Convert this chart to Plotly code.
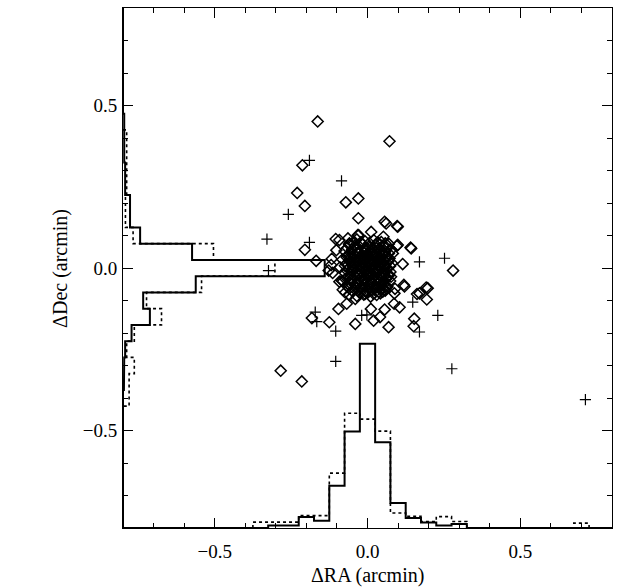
import numpy as np
import plotly.graph_objects as go

# ---------------- data (arcmin) ----------------
# open diamonds: sources (outer ones read individually)
diam_x = [-0.163, 0.072, -0.213, -0.230, -0.205, -0.071, -0.030, -0.030, 0.056, 0.097,
          0.141, 0.280, 0.115, -0.205, -0.168, 0.192, 0.162, 0.194, 0.119, 0.105,
          0.087, 0.056, 0.069, 0.153, 0.151, -0.040, 0.020, 0.041, 0.011, -0.125,
          -0.182, -0.095, -0.068, -0.040, -0.104, -0.064, -0.029, 0.052, 0.096, 0.069,
          -0.084, -0.127, -0.117, -0.073, -0.008, 0.058, 0.090, -0.284, -0.215,
          -0.092, -0.119, -0.114, -0.092, -0.081, -0.059, -0.032, 0.012, -0.102, -0.059,
          0.061, 0.099, 0.143, 0.099, 0.083, 0.077, 0.061, 0.121, 0.197, 0.170, 0.050, 0.088]
diam_y = [0.451, 0.390, 0.316, 0.231, 0.191, 0.202, 0.214, 0.153, 0.142, 0.129,
          0.063, -0.008, 0.012, 0.056, 0.022, -0.060, -0.080, -0.097, -0.052, -0.121,
          -0.110, -0.128, -0.182, -0.156, -0.179, -0.172, -0.162, -0.151, -0.126, -0.167,
          -0.154, -0.126, -0.110, -0.095, 0.089, 0.091, 0.101, 0.096, 0.068, -0.024,
          -0.039, -0.008, 0.028, -0.075, -0.080, -0.070, -0.064, -0.316, -0.349,
          0.086, 0.009, -0.015, -0.042, -0.067, -0.083, 0.101, 0.111, 0.055, 0.076,
          0.137, 0.127, 0.060, 0.071, 0.045, -0.027, -0.057, -0.057, -0.062, -0.078, -0.073, -0.078]

# dense core of diamonds (read as a filled blob)
core_x = [-0.035, -0.008, 0.020, 0.045,
          -0.060, -0.042, -0.018, 0.004, 0.028, 0.052, 0.070,
          -0.075, -0.050, -0.030, -0.008, 0.012, 0.036, 0.058, 0.078,
          -0.066, -0.044, -0.022, -0.002, 0.018, 0.040, 0.063,
          -0.082, -0.056, -0.034, -0.012, 0.008, 0.028, 0.050, 0.072,
          -0.070, -0.046, -0.025, -0.005, 0.015, 0.036, 0.058, 0.080,
          -0.090, -0.062, -0.038, -0.016, 0.003, 0.024, 0.044, 0.066,
          -0.076, -0.052, -0.028, -0.008, 0.012, 0.033, 0.055, 0.075,
          -0.065, -0.042, -0.020, 0.000, 0.020, 0.042, 0.064,
          -0.080, -0.055, -0.032, -0.010, 0.010, 0.030, 0.052, 0.074,
          -0.066, -0.042, -0.020, 0.002, 0.022, 0.044, 0.065,
          -0.050, -0.028, -0.006, 0.016, 0.036, 0.058,
          -0.035, -0.012, 0.010, 0.030,
          -0.030, 0.000, 0.030, -0.020, 0.000, 0.020, -0.015, 0.015,
          -0.045, 0.045, -0.010, 0.025, -0.035, 0.035, -0.055, 0.055,
          -0.048, -0.022, 0.006, 0.032, 0.058,
          -0.066, -0.030, -0.006, 0.016, 0.040, 0.062,
          -0.056, -0.034, -0.012, 0.008, 0.028, 0.050, 0.070,
          -0.068, -0.046, -0.024, -0.004, 0.018, 0.038, 0.060,
          -0.058, -0.036, -0.014, 0.006, 0.026, 0.046, 0.068,
          -0.074, -0.050, -0.028, -0.006, 0.014, 0.034, 0.056, 0.074,
          -0.068, -0.044, -0.022, -0.002, 0.020, 0.040, 0.060,
          -0.056, -0.032, -0.012, 0.008, 0.028, 0.050, 0.070,
          -0.072, -0.050, -0.028, -0.006, 0.016, 0.038, 0.060,
          -0.056, -0.032, -0.010, 0.012, 0.032, 0.054,
          -0.060, -0.038, -0.016, 0.006, 0.026, 0.048,
          -0.024, 0.000, 0.020, 0.042]
core_y = [0.088, 0.082, 0.086, 0.080,
          0.072, 0.068, 0.074, 0.066, 0.071, 0.067, 0.074,
          0.052, 0.057, 0.050, 0.056, 0.052, 0.058, 0.050, 0.056,
          0.038, 0.042, 0.036, 0.043, 0.037, 0.042, 0.036,
          0.026, 0.030, 0.024, 0.030, 0.025, 0.031, 0.026, 0.029,
          0.013, 0.017, 0.011, 0.016, 0.012, 0.018, 0.011, 0.015,
          0.002, -0.002, 0.004, -0.001, 0.003, -0.003, 0.002, -0.001,
          -0.014, -0.010, -0.016, -0.011, -0.015, -0.010, -0.016, -0.012,
          -0.028, -0.024, -0.030, -0.025, -0.029, -0.024, -0.030,
          -0.041, -0.038, -0.043, -0.039, -0.044, -0.038, -0.042, -0.040,
          -0.056, -0.052, -0.058, -0.053, -0.057, -0.052, -0.058,
          -0.070, -0.066, -0.072, -0.068, -0.073, -0.067,
          -0.086, -0.082, -0.088, -0.083,
          0.045, 0.030, 0.000, 0.000, -0.020, 0.020, -0.035, -0.045,
          -0.005, 0.015, 0.060, 0.050, -0.050, -0.060, 0.020, -0.025,
          0.078, 0.079, 0.077, 0.078, 0.076,
          0.062, 0.061, 0.063, 0.062, 0.060, 0.063,
          0.047, 0.046, 0.048, 0.047, 0.046, 0.048, 0.045,
          0.033, 0.034, 0.032, 0.033, 0.034, 0.032, 0.033,
          0.020, 0.021, 0.019, 0.020, 0.021, 0.019, 0.020,
          0.007, 0.008, 0.006, 0.007, 0.008, 0.006, 0.007, 0.006,
          -0.007, -0.006, -0.008, -0.007, -0.006, -0.008, -0.007,
          -0.021, -0.020, -0.022, -0.021, -0.020, -0.022, -0.021,
          -0.034, -0.033, -0.035, -0.034, -0.033, -0.035, -0.034,
          -0.048, -0.047, -0.049, -0.048, -0.047, -0.049,
          -0.063, -0.062, -0.064, -0.063, -0.062, -0.064,
          -0.078, -0.077, -0.079, -0.078]

# plus signs
plus_x = [-0.190, -0.085, -0.259, -0.329, -0.190, -0.324, 0.170, 0.252, -0.171, -0.166,
          -0.104, -0.019, -0.002, 0.148, 0.230, 0.170, -0.104, 0.276, 0.713]
plus_y = [0.331, 0.268, 0.165, 0.089, 0.079, -0.008, 0.019, 0.030, -0.136, -0.165,
          -0.194, -0.146, -0.144, -0.105, -0.146, -0.197, -0.287, -0.310, -0.405]

# histograms (bin width 0.05 arcmin; heights in axis units above the baseline)
bin_w = 0.05
ra_centers = [-0.30, -0.25, -0.20, -0.15, -0.10, -0.05, 0.00, 0.05, 0.10, 0.15, 0.20, 0.25, 0.30]
ra_solid = [0.008, 0.008, 0.034, 0.022, 0.130, 0.297, 0.567, 0.264, 0.077, 0.031, 0.017, 0.008, 0.012]
ra_dot_centers = [-0.35, -0.30, -0.25, -0.20, -0.15, -0.10, -0.05, 0.00, 0.05, 0.10, 0.15,
                  0.20, 0.25, 0.30, 0.35, 0.40, 0.45, 0.50, 0.55, 0.60, 0.65, 0.70]
ra_dot = [0.018, 0.018, 0.018, 0.038, 0.038, 0.169, 0.353, 0.335, 0.298, 0.046, 0.036,
          0.020, 0.035, 0.020, 0.0, 0.0, 0.0, 0.0, 0.0, 0.0, 0.0, 0.015]

dec_centers = [0.45, 0.40, 0.35, 0.30, 0.25, 0.20, 0.15, 0.10, 0.05, 0.00,
               -0.05, -0.10, -0.15, -0.20, -0.25, -0.30, -0.35]
dec_solid = [0.004, 0.004, 0.004, 0.007, 0.007, 0.023, 0.023, 0.056, 0.226, 0.660,
             0.238, 0.066, 0.088, 0.028, 0.007, 0.004, 0.003]
dec_dot_centers = [0.40, 0.35, 0.30, 0.25, 0.20, 0.15, 0.10, 0.05, 0.00, -0.05,
                   -0.10, -0.15, -0.20, -0.25, -0.30, -0.35, -0.40]
dec_dot = [0.012, 0.012, 0.012, 0.012, 0.008, 0.008, 0.033, 0.296, 0.497, 0.257,
           0.077, 0.126, 0.037, 0.012, 0.037, 0.020, 0.020]

LO, HI = -0.8, 0.8


def step_x(centers, h, base, full):
    xs, ys = [], []
    if full:
        xs.append(LO); ys.append(base)
    xs.append(centers[0] - bin_w / 2); ys.append(base)
    for c, v in zip(centers, h):
        xs += [c - bin_w / 2, c + bin_w / 2]
        ys += [base + v, base + v]
    xs.append(centers[-1] + bin_w / 2); ys.append(base)
    if full:
        xs.append(HI); ys.append(base)
    return xs, ys


def step_y(centers, w, base, full):
    xs, ys = [], []
    if full:
        xs.append(base); ys.append(HI)
    xs.append(base); ys.append(centers[0] + bin_w / 2)
    for c, v in zip(centers, w):
        xs += [base + v, base + v]
        ys += [c + bin_w / 2, c - bin_w / 2]
    xs.append(base); ys.append(centers[-1] - bin_w / 2)
    if full:
        xs.append(base); ys.append(LO)
    return xs, ys


fig = go.Figure()
fig.add_trace(go.Scatter(x=diam_x + core_x, y=diam_y + core_y, mode="markers",
                         marker=dict(symbol="diamond-open", size=8.5, color="black",
                                     line=dict(width=1.5, color="black")),
                         showlegend=False))
fig.add_trace(go.Scatter(x=plus_x, y=plus_y, mode="markers",
                         marker=dict(symbol="cross-thin-open", size=8, color="black",
                                     line=dict(width=1.2, color="black")),
                         showlegend=False))

for (xs, ys), dash, wd in [
    (step_x(ra_dot_centers, ra_dot, LO, False), "dot", 1.6),
    (step_y(dec_dot_centers, dec_dot, LO, False), "dot", 1.6),
    (step_x(ra_centers, ra_solid, LO, True), "solid", 2.0),
    (step_y(dec_centers, dec_solid, LO, True), "solid", 2.0),
]:
    fig.add_trace(go.Scatter(x=xs, y=ys, mode="lines",
                             line=dict(color="black", width=wd, dash=dash),
                             showlegend=False, hoverinfo="skip"))

font = dict(family="Liberation Serif", size=19, color="black")
axis_common = dict(
    range=[LO, HI], dtick=0.5, tick0=0, tickformat=".1f",
    ticks="inside", ticklen=10, tickwidth=1, tickcolor="black",
    showline=True, linecolor="black", linewidth=1, mirror="allticks",
    showgrid=False, zeroline=False, tickfont=font,
    minor=dict(dtick=0.1, ticks="inside", ticklen=5, tickwidth=1, tickcolor="black"),
)
fig.update_xaxes(**axis_common, ticklabelstandoff=6)
fig.update_yaxes(**axis_common, ticklabelstandoff=1)

title_font = dict(family="Liberation Serif", size=20, color="black")
fig.add_annotation(text="ΔRA (arcmin)", xref="paper", yref="paper", x=0.5, y=-0.0904,
                   xanchor="center", yanchor="middle", showarrow=False, font=title_font)
fig.add_annotation(text="ΔDec (arcmin)", xref="paper", yref="paper", x=-0.129, y=0.5,
                   xanchor="center", yanchor="middle", showarrow=False, textangle=-90,
                   font=title_font)

fig.update_layout(width=619, height=588, margin=dict(l=123, r=7, t=8, b=60),
                  plot_bgcolor="white", paper_bgcolor="white", font=font)
fig.write_html("out.html")
